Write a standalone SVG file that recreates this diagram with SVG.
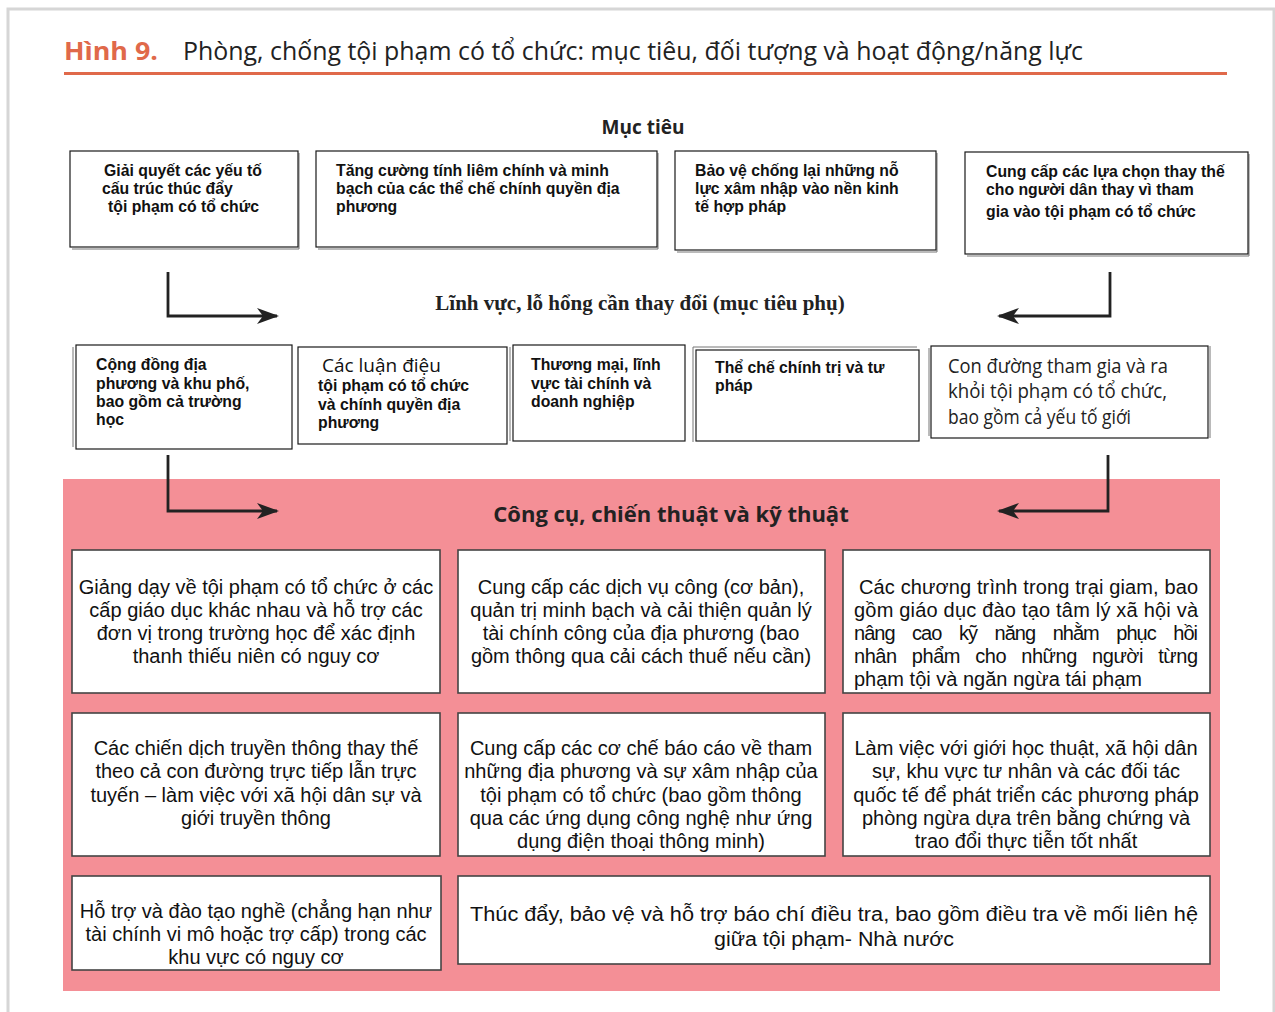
<svg xmlns="http://www.w3.org/2000/svg" width="1275" height="1012" viewBox="0 0 1275 1012">
<style>
.frame{fill:none;stroke:#d6d6d6;stroke-width:3}
.tb{fill:#fff;stroke:#1a1a1a;stroke-width:1.2}
.sh{fill:none;stroke:#777;stroke-width:1}
.bb{fill:#fff;stroke:#444;stroke-width:1.6}
.tt{font-family:"Liberation Sans",Arial,sans-serif;font-size:15.8px;font-weight:bold;fill:#111}
.bt{font-family:"Liberation Sans",Arial,sans-serif;font-size:20px;fill:#111}
.cn{font-family:"Liberation Sans",Arial,sans-serif;font-size:20px;fill:#111;text-anchor:middle}
.hd{font-family:"Open Sans","Noto Sans",sans-serif;font-weight:bold;fill:#222;text-anchor:middle}
.ar{fill:none;stroke:#222;stroke-width:2.8}
</style>
<defs>
<marker id="ah" viewBox="0 0 22 16" refX="20" refY="8" markerWidth="22" markerHeight="16" markerUnits="userSpaceOnUse" orient="auto">
<path d="M0,0 L22,8 L0,16 L6,8 Z" fill="#222"/>
</marker>
</defs>
<rect width="1275" height="1012" fill="#fff"/>
<path class="frame" d="M8,1012 V9 H1275 M1274,9 V1012"/>
<text x="64" y="60" font-family="'Open Sans','Noto Sans',sans-serif" font-size="25" font-weight="bold" fill="#e0694a" textLength="94" lengthAdjust="spacingAndGlyphs">Hình 9.</text>
<text x="183" y="60" font-family="'Open Sans','Noto Sans',sans-serif" font-size="25" fill="#222" textLength="900" lengthAdjust="spacingAndGlyphs">Phòng, chống tội phạm có tổ chức: mục tiêu, đối tượng và hoạt động/năng lực</text>
<rect x="64" y="72" width="1163" height="3" fill="#e0694a"/>

<text x="643" y="134" class="hd" font-size="19">Mục tiêu</text>

<g id="goal1">
<path class="sh" d="M299,153 V249 H72"/>
<rect class="tb" x="70" y="151" width="228" height="96"/>
<text class="tt" x="104" y="176">Giải quyết các yếu tố</text>
<text class="tt" x="102" y="194">cấu trúc thúc đẩy</text>
<text class="tt" x="108" y="212">tội phạm có tổ chức</text>
</g>
<g id="goal2">
<path class="sh" d="M658,153 V249 H318"/>
<rect class="tb" x="316" y="151" width="341" height="96"/>
<text class="tt" x="336" y="176">Tăng cường tính liêm chính và minh</text>
<text class="tt" x="336" y="194">bạch của các thể chế chính quyền địa</text>
<text class="tt" x="336" y="212">phương</text>
</g>
<g id="goal3">
<path class="sh" d="M937,153 V252 H677"/>
<rect class="tb" x="675" y="151" width="261" height="99"/>
<text class="tt" x="695" y="176">Bảo vệ chống lại những nỗ</text>
<text class="tt" x="695" y="194">lực xâm nhập vào nền kinh</text>
<text class="tt" x="695" y="212">tế hợp pháp</text>
</g>
<g id="goal4">
<path class="sh" d="M1249,154 V256 H967"/>
<rect class="tb" x="965" y="152" width="283" height="102"/>
<text class="tt" x="986" y="177">Cung cấp các lựa chọn thay thế</text>
<text class="tt" x="986" y="195">cho người dân thay vì tham</text>
<text class="tt" x="986" y="217">gia vào tội phạm có tổ chức</text>
</g>

<text x="640" y="310" font-family="'Liberation Serif','Times New Roman',serif" font-size="21" font-weight="bold" fill="#222" text-anchor="middle">Lĩnh vực, lỗ hổng cần thay đổi (mục tiêu phụ)</text>

<g id="area1">
<path class="sh" d="M73,347 V447"/>
<rect class="tb" x="76" y="345" width="216" height="104"/>
<text class="tt" x="96" y="370">Cộng đồng địa</text>
<text class="tt" x="96" y="389">phương và khu phố,</text>
<text class="tt" x="96" y="407">bao gồm cả trường</text>
<text class="tt" x="96" y="425">học</text>
</g>
<g id="area2">
<rect class="tb" x="298" y="347" width="209" height="97"/>
<text x="322" y="372" font-family="'Open Sans','Noto Sans',sans-serif" font-size="19" fill="#111">Các luận điệu</text>
<text class="tt" x="318" y="391">tội phạm có tổ chức</text>
<text class="tt" x="318" y="410">và chính quyền địa</text>
<text class="tt" x="318" y="428">phương</text>
</g>
<g id="area3">
<path class="sh" d="M510,347 V441"/>
<rect class="tb" x="513" y="345" width="172" height="96"/>
<text class="tt" x="531" y="370">Thương mại, lĩnh</text>
<text class="tt" x="531" y="389">vực tài chính và</text>
<text class="tt" x="531" y="407">doanh nghiệp</text>
</g>
<g id="area4">
<path class="sh" d="M693,442 V347 H917"/>
<rect class="tb" x="696" y="350" width="223" height="91"/>
<text class="tt" x="715" y="373">Thể chế chính trị và tư</text>
<text class="tt" x="715" y="391">pháp</text>
</g>
<g id="area5">
<path class="sh" d="M929,348 V436 M1210,346 V438"/>
<rect class="tb" x="931" y="346" width="277" height="92"/>
<text x="948" y="373" font-family="'Open Sans','Noto Sans',sans-serif" font-size="20" fill="#222" textLength="220" lengthAdjust="spacingAndGlyphs">Con đường tham gia và ra</text>
<text x="948" y="398" font-family="'Open Sans','Noto Sans',sans-serif" font-size="20" fill="#222" textLength="219" lengthAdjust="spacingAndGlyphs">khỏi tội phạm có tổ chức,</text>
<text x="948" y="424" font-family="'Open Sans','Noto Sans',sans-serif" font-size="20" fill="#222" textLength="183" lengthAdjust="spacingAndGlyphs">bao gồm cả yếu tố giới</text>
</g>

<rect x="63" y="479" width="1157" height="512" fill="#f48f96"/>
<text x="671" y="522" class="hd" font-size="22">Công cụ, chiến thuật và kỹ thuật</text>

<g id="connectors">
<path class="ar" d="M168,272 V316 H277" marker-end="url(#ah)"/>
<path class="ar" d="M1110,272 V316 H999" marker-end="url(#ah)"/>
<path class="ar" d="M168,455 V511 H277" marker-end="url(#ah)"/>
<path class="ar" d="M1108,455 V511 H999" marker-end="url(#ah)"/>
</g>

<g id="tool1">
<rect class="bb" x="72" y="550" width="368" height="143"/>
<text class="cn" x="256" y="594">Giảng dạy về tội phạm có tổ chức ở các</text>
<text class="cn" x="256" y="617">cấp giáo dục khác nhau và hỗ trợ các</text>
<text class="cn" x="256" y="640">đơn vị trong trường học để xác định</text>
<text class="cn" x="256" y="663">thanh thiếu niên có nguy cơ</text>
</g>
<g id="tool2">
<rect class="bb" x="458" y="550" width="367" height="143"/>
<text class="cn" x="641" y="594">Cung cấp các dịch vụ công (cơ bản),</text>
<text class="cn" x="641" y="617">quản trị minh bạch và cải thiện quản lý</text>
<text class="cn" x="641" y="640">tài chính công của địa phương (bao</text>
<text class="cn" x="641" y="663">gồm thông qua cải cách thuế nếu cần)</text>
</g>
<g id="tool3">
<rect class="bb" x="843" y="550" width="367" height="143"/>
<text class="bt" x="859" y="594" textLength="339" lengthAdjust="spacing">Các chương trình trong trại giam, bao</text>
<text class="bt" x="854" y="617" textLength="344" lengthAdjust="spacing">gồm giáo dục đào tạo tâm lý xã hội và</text>
<text class="bt" x="854" y="640" textLength="344" lengthAdjust="spacing" word-spacing="13">nâng cao kỹ năng nhằm phục hồi</text>
<text class="bt" x="854" y="663" textLength="344" lengthAdjust="spacing" word-spacing="10">nhân phẩm cho những người từng</text>
<text class="bt" x="854" y="686">phạm tội và ngăn ngừa tái phạm</text>
</g>
<g id="tool4">
<rect class="bb" x="72" y="713" width="368" height="143"/>
<text class="cn" x="256" y="755">Các chiến dịch truyền thông thay thế</text>
<text class="cn" x="256" y="778">theo cả con đường trực tiếp lẫn trực</text>
<text class="cn" x="256" y="802">tuyến – làm việc với xã hội dân sự và</text>
<text class="cn" x="256" y="825">giới truyền thông</text>
</g>
<g id="tool5">
<rect class="bb" x="458" y="713" width="367" height="143"/>
<text class="cn" x="641" y="755">Cung cấp các cơ chế báo cáo về tham</text>
<text class="cn" x="641" y="778">những địa phương và sự xâm nhập của</text>
<text class="cn" x="641" y="802">tội phạm có tổ chức (bao gồm thông</text>
<text class="cn" x="641" y="825">qua các ứng dụng công nghệ như ứng</text>
<text class="cn" x="641" y="848">dụng điện thoại thông minh)</text>
</g>
<g id="tool6">
<rect class="bb" x="843" y="713" width="367" height="143"/>
<text class="cn" x="1026" y="755">Làm việc với giới học thuật, xã hội dân</text>
<text class="cn" x="1026" y="778">sự, khu vực tư nhân và các đối tác</text>
<text class="cn" x="1026" y="802">quốc tế để phát triển các phương pháp</text>
<text class="cn" x="1026" y="825">phòng ngừa dựa trên bằng chứng và</text>
<text class="cn" x="1026" y="848">trao đổi thực tiễn tốt nhất</text>
</g>
<g id="tool7">
<rect class="bb" x="72" y="876" width="369" height="94"/>
<text class="cn" x="256" y="918">Hỗ trợ và đào tạo nghề (chẳng hạn như</text>
<text class="cn" x="256" y="941">tài chính vi mô hoặc trợ cấp) trong các</text>
<text class="cn" x="256" y="964">khu vực có nguy cơ</text>
</g>
<g id="tool8">
<rect class="bb" x="458" y="876" width="752" height="88"/>
<text class="cn" x="834" y="921" font-size="20" textLength="728" lengthAdjust="spacingAndGlyphs">Thúc đẩy, bảo vệ và hỗ trợ báo chí điều tra, bao gồm điều tra  về mối  liên hệ</text>
<text class="cn" x="834" y="946" font-size="20" textLength="240" lengthAdjust="spacingAndGlyphs">giữa tội phạm- Nhà nước</text>
</g>
</svg>
